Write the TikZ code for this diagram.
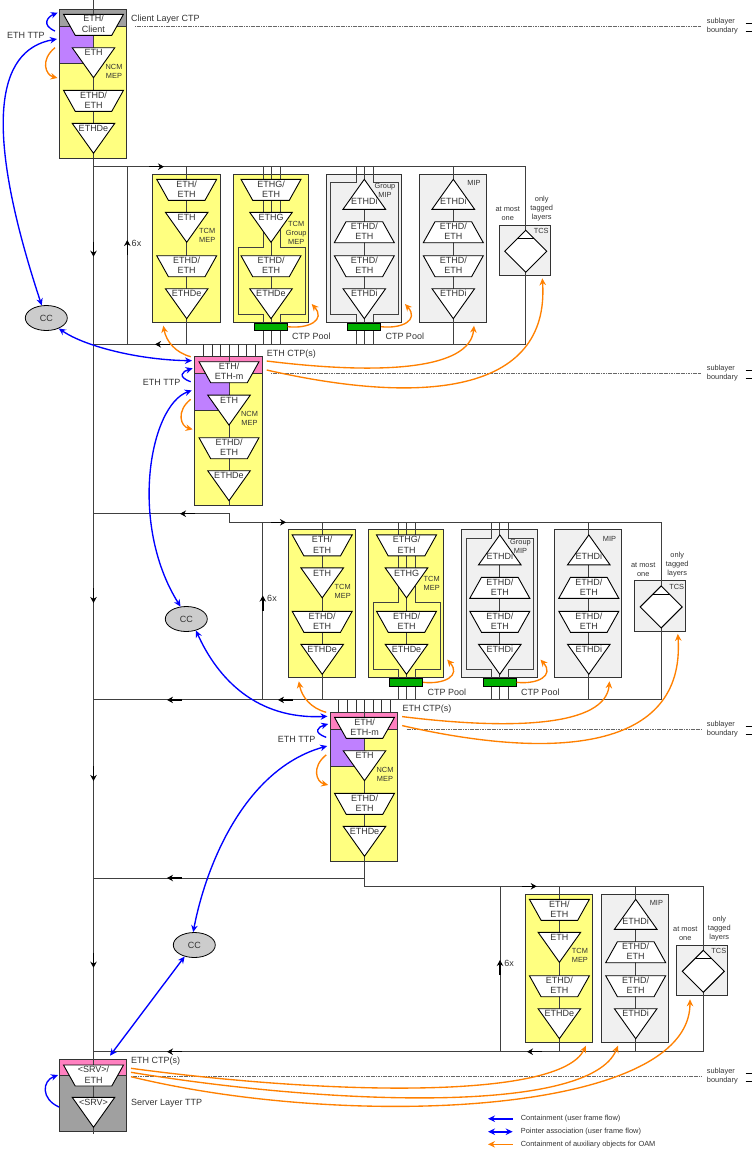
\documentclass[tikz,border=0pt]{standalone}
\usepackage{fontspec}
\setmainfont{Liberation Sans}
\usepackage{xcolor}
\usetikzlibrary{shapes.geometric, arrows.meta}

\definecolor{mepyellow}{HTML}{FFFF80}
\definecolor{ttppurple}{HTML}{BF80FF}
\definecolor{ctppink}{HTML}{FF80C0}
\definecolor{layergray}{HTML}{A0A0A0}
\definecolor{mipgray}{HTML}{F0F0F0}
\definecolor{poolgreen}{HTML}{00B000}
\definecolor{ccgray}{HTML}{CCCCCC}
\definecolor{oamorange}{HTML}{FF8000}

\tikzset{
    small/.style={font=\fontsize{7.4}{9}\selectfont},
    elem/.style={draw=black, fill=white, line width=0.9pt},
    flow/.style={draw=black!75, line width=1pt},
    outline/.style={draw=black!80, line width=1pt},
    flowarrow/.style={black, line width=1.4pt, -{Stealth[length=6pt,width=6.5pt]}},
    contain/.style={blue, line width=1.35pt},
    oam/.style={oamorange, line width=1.35pt},
    ctrl/.style={draw=black, fill=ccgray, ellipse, minimum width=42pt, minimum height=25pt, line width=0.8pt},
    pool/.style={draw=black, fill=poolgreen, minimum width=33pt, minimum height=7.3pt, line width=0.8pt},
    boundary/.style={draw=black!60, line width=0.5pt, dash pattern=on 1.2pt off 0.5pt},
    % elementary shapes
    trapdown/.pic={
        \draw[elem] (-30,0) -- (30,0) -- (18.3,21) -- (-18.3,21) -- cycle;
        \node at (0,9.7) {#1};
    },
    trapup/.pic={
        \draw[elem] (-18.3,0) -- (18.3,0) -- (30,21) -- (-30,21) -- cycle;
        \node at (0,9.7) {#1};
    },
    tridown/.pic={
        \draw[elem] (-21.3,0) -- (21.3,0) -- (0,30) -- cycle;
        \node at (0,5) {#1};
    },
    triup/.pic={
        \draw[elem] (0,0) -- (21.3,30) -- (-21.3,30) -- cycle;
        \node at (0,21.5) {#1};
    },
    % lower part of a stack: trapezium and triangle
    stackend/.pic={
        \pic at (0,81.4) {trapdown={ETHD/\\ETH}};
        \pic at (0,114.4) {tridown={#1}};
    },
    % TCM MEP box, the value is the length of its line below the top
    boxtcm/.pic={
        \draw[outline, fill=mepyellow] (-34.2,0) rectangle (33.3,148);
        \draw[flow] (0,-7.6) -- (0,#1);
        \pic at (0,5) {trapdown={ETH/\\ETH}};
        \pic at (0,38) {tridown={ETH}};
        \pic at (0,0) {stackend=ETHDe};
        \node[small, anchor=north] at (20.5,54) {TCM\\MEP};
    },
    % MIP box
    boxmip/.pic={
        \draw[outline, fill=mipgray] (-34.3,0) rectangle (33,148);
        \draw[flow] (0,-7.6) -- (0,#1);
        \pic at (0,5) {triup=ETHDi};
        \pic at (0,47.4) {trapup={ETHD/\\ETH}};
        \pic at (0,0) {stackend=ETHDi};
        \node[small] at (20.7,8.7) {MIP};
    },
    % TCS box
    boxtcs/.pic={
        \draw[outline, fill=mipgray] (-26.4,0) rectangle (24.3,50.4);
        \draw[flow] (0,-58.6) -- (0,#1);
        \draw[elem] (0,5) -- (21,26) -- (0,47) -- (-21,26) -- cycle;
        \draw[elem] (-8.4,13.4) -- (8.4,13.4);
        \node[small] at (15.5,6) {TCS};
        \node[small] at (-18,-11.5) {at most\\one};
        \node[small] at (16,-16.5) {only\\tagged\\layers};
    },
    % one row of connection functions, in the frame of the first row
    pics/rowfn/.style={code={
        \draw[flow] (127.3,166.7) rectangle (525.7,344.3);
        \pic at (186.7,174.3) {boxtcm=170};
        % TCM group box
        \draw[outline, fill=mepyellow] (233,174.3) rectangle (308.3,322.3);
        \draw[flow] (271,166.7) -- (271,344.3);
        \draw[flow] (263.3,166.7) -- (263.3,247.3) -- (238.3,247.3) -- (238.3,314.3) -- (263.3,314.3) -- (263.3,344.3);
        \draw[flow] (280,166.7) -- (280,247.3) -- (305,247.3) -- (305,314.3) -- (280,314.3) -- (280,344.3);
        \pic at (271,179.3) {trapdown={ETHG/\\ETH}};
        \pic at (271,212.3) {tridown=ETHG};
        \pic at (271,174.3) {stackend=ETHDe};
        \node[small, anchor=north] at (296.2,221) {#1};
        \node[pool] (-poolb) at (270.8,326.7) {};
        % group MIP box
        \draw[outline, fill=mipgray] (326,174.3) rectangle (401.7,322.3);
        \draw[flow] (364.3,166.7) -- (364.3,344.3);
        \draw[flow] (356,166.7) -- (356,182.7) -- (330.7,182.7) -- (330.7,314.3) -- (356,314.3) -- (356,344.3);
        \draw[flow] (373.3,166.7) -- (373.3,182.7) -- (398.3,182.7) -- (398.3,314.3) -- (373.3,314.3) -- (373.3,344.3);
        \pic at (364.3,179.3) {triup=ETHDi};
        \pic at (364.3,221.7) {trapup={ETHD/\\ETH}};
        \pic at (364.3,174.3) {stackend=ETHDi};
        \node[small, anchor=north] at (385,183.5) {Group\\MIP};
        \node[pool] (-poolc) at (364.2,326.7) {};
        \pic at (453.3,174.3) {boxmip=170};
        \pic at (525.7,225.3) {boxtcs=119};
        % arrow on the sides
        \draw[flowarrow] (127.3,255) -- (127.3,240);
        \node at (136.5,243) {6x};
        \node[anchor=west] at (292,336.7) {CTP Pool};
        \node[anchor=west] at (385.3,336.7) {CTP Pool};
        \coordinate (-tipa) at (163.3,325.7);
        \coordinate (-tipb) at (311.7,304);
        \coordinate (-tipc) at (405,304);
        \coordinate (-tipd) at (474,325.7);
        \coordinate (-tipe) at (542.3,278.3);
    }},
    % NCM block, origin on its centre line
    pics/ncmblock/.style 2 args={code={
        \draw[outline, fill=mepyellow] (-34.2,26) rectangle (33.2,158);
        \fill[ttppurple] (-34.2,26) rectangle (0,63.3);
        \draw[outline] (-34.2,63.3) -- (-34.2,26) -- (33.2,26);
        \draw[black!80, line width=0.9pt] (-34.2,63.3) -- (-10,63.3);
        \draw[outline, fill=#1] (-34.2,9.3) rectangle (33.2,26);
        \draw[flow] (0,9.3) -- (0,158);
        \pic at (0,14.3) {trapdown={#2}};
        \pic at (0,47.7) {tridown=ETH};
        \pic at (0,90.3) {trapdown={ETHD/\\ETH}};
        \pic at (0,123.3) {tridown=ETHDe};
        \node[small, anchor=north] at (20.5,64) {NCM\\MEP};
        \coordinate (-tip) at (-37,13.3);
        \coordinate (-ttpin) at (-38.3,34.3);
        \coordinate (-ttp) at (-36.3,20.9);
        \coordinate (-ptr) at (-37.3,43);
        \coordinate (-oamin) at (-38.3,51.9);
        \coordinate (-mep) at (-36.3,82);
        \coordinate (-ctpa) at (-38.3,9.3);
        \coordinate (-ctpb) at (37.7,13.6);
        \coordinate (-ctpc) at (37.7,22.6);
    }},
    ctplines/.pic={
        \foreach \dx in {-25.7,-16.7,-8.3,0,9,17.3,26}
            \draw[black!80, line width=0.7pt] (\dx,0) -- (\dx,12.4);
    },
    % boundary with its text
    sublayer/.pic={
        \draw[boundary] (#1,0) -- (701,0);
        \node[small, anchor=west, align=left] at (706.7,0) {sublayer\\boundary};
        \draw[black, line width=0.6pt] (745.7,-3.5) -- (752,-3.5);
        \draw[black, line width=0.6pt] (745.7,4.5) -- (752,4.5);
    }
}

% arrows of auxiliary objects from one block to one row
\newcommand{\oamarrows}[2]{
    \draw[oam,->] (#2-ctpa) .. controls +(-15,-4) and +(3,16) .. (#1-tipa);
    \draw[oam,->] (#1-poolb.east) .. controls +(21,2.3) and +(14.3,16) .. (#1-tipb);
    \draw[oam,->] (#1-poolc.east) .. controls +(21,2.3) and +(14.3,16) .. (#1-tipc);
    \draw[oam,->] (#2-ctpb) .. controls +(113.3,14) and +(-4,44.3) .. (#1-tipd);
    \draw[oam,->] (#2-ctpc) .. controls +(153.3,35) and +(7.7,116.7) .. (#1-tipe);
}

\begin{document}
\begin{tikzpicture}[
    x=1pt, y=-1pt,
    >={Stealth[length=7pt,width=6.5pt]},
    every node/.style={font=\fontsize{9}{10.5}\selectfont, text=black!80, inner sep=0pt, align=center}
]
\useasboundingbox (0,0) rectangle (752,1149);

% Sublayer boundaries
\pic at (0,26.5) {sublayer=135};
\pic at (0,373.3) {sublayer=271};
\pic at (0,729.3) {sublayer=406.7};
\pic at (0,1076.3) {sublayer=131};

% Main flow
\draw[flow] (93.5,0) -- (93.5,1131);
\draw[flow] (93.5,166.7) -- (127.3,166.7);
\draw[flow] (93.5,344.3) -- (127.3,344.3);
\draw[flow] (93.5,513.7) -- (229,513.7) -- (229,522.3) -- (262.8,522.3);
\draw[flow] (93.5,699.9) -- (262.8,699.9);
\draw[flow] (93.5,878) -- (364.5,878);
\draw[flow] (364.5,861) -- (364.5,886.3) -- (703.3,886.3) -- (703.3,1051.7) -- (93.5,1051.7);
\draw[flow] (500,886.3) -- (500,1051.7);

% Rows of connection functions
\pic (rowa) at (0,0) {rowfn={TCM\\Group\\MEP}};
\pic (rowb) at (135.5,355.6) {rowfn={TCM\\MEP}};

% Last row
\pic at (559.4,894.3) {boxtcm=157.4};
\pic at (635.7,894.3) {boxmip=157.4};
\pic at (703.3,945.3) {boxtcs=106.4};
\draw[flowarrow] (500,975) -- (500,960);
\node at (509,963) {6x};
\coordinate (tipf) at (586,1045.7);
\coordinate (tipg) at (618,1045.7);
\coordinate (tiph) at (690,999.3);

% Flow direction
\foreach \fy in {241.7, 588, 766, 952.7}
    \draw[flowarrow] (93.5,\fy) -- +(0,15);
\foreach \fx/\fy in {149/166.7, 271/522.3, 521.7/886.3}
    \draw[flowarrow] (\fx,\fy) -- +(15,0);
\foreach \fx/\fy in {170/344.3, 293/699.9, 182/699.9, 195/513.7, 182/878, 182/1051.7, 542/1051.7}
    \draw[flowarrow] (\fx,\fy) -- +(-15,0);

% NCM blocks
\pic (blka) at (93.5,0) {ncmblock={layergray}{ETH/\\Client}};
\draw[flow] (93.5,0) -- (93.5,14.3);
\pic at (229,344.3) {ctplines};
\pic (blkb) at (229,347.4) {ncmblock={ctppink}{ETH/\\ETH-m}};
\pic at (364.5,699.9) {ctplines};
\pic (blkc) at (364.5,703) {ncmblock={ctppink}{ETH/\\ETH-m}};

% Server layer block
\draw[outline, fill=layergray] (59.3,1075) rectangle (126.7,1131);
\draw[outline, fill=ctppink] (59.3,1059.3) rectangle (126.7,1075);
\draw[flow] (93.5,1051.7) -- (93.5,1134);
\pic at (93.5,1065) {trapdown={<SRV>/\\ETH}};
\pic at (93.5,1097.3) {tridown={<SRV>}};

% Labels
\node[anchor=west] (clientctp) at (131,18.7) {Client Layer CTP};
\node[anchor=west] (ttpa) at (7,35.7) {ETH TTP};
\node[anchor=west] (ctpb) at (266.7,354) {ETH CTP(s)};
\node[anchor=west] (ttpb) at (142.7,382.7) {ETH TTP};
\node[anchor=west] (ctpc) at (402.3,709.5) {ETH CTP(s)};
\node[anchor=west] (ttpc) at (277.7,739) {ETH TTP};
\node[anchor=west] (ctpd) at (131,1061) {ETH CTP(s)};
\node[anchor=west] (srvttp) at (131,1103) {Server Layer TTP};

% Connection controllers
\node[ctrl] (cca) at (46.3,318) {CC};
\node[ctrl] (ccb) at (186.3,619) {CC};
\node[ctrl] (ccc) at (194.3,945) {CC};

% Containment and pointer arrows
\coordinate (srvin) at (59,1107);
\coordinate (srvtop) at (58,1075);
\coordinate (srvptr) at (110,1055.7);
\coordinate (clientin) at (55,31);
\coordinate (clientttp) at (57.7,12.7);
\coordinate (clientptr) at (57,39);
\coordinate (clientoam) at (55,47.7);
\coordinate (clientmep) at (57.5,78);
\draw[contain,->] (clientin) .. controls +(-14,-6) and +(-10,4) .. (clientttp);
\draw[contain,<->] (clientptr) .. controls +(-62,11) and +(-58,-176) .. (cca.110);
\draw[contain,<->] (cca.-40) .. controls +(26.7,18.3) and +(-52,-0.7) .. (blkb-tip);
\draw[contain,->] (blkb-ttpin) .. controls +(-14,-5) and +(-10,3) .. (blkb-ttp);
\draw[contain,<->] (blkb-ptr) .. controls +(-42,15) and +(-52,-83) .. (ccb.115);
\draw[contain,<->] (ccb.-50) .. controls +(22,48.5) and +(-71,3.3) .. (blkc-tip);
\draw[contain,->] (blkc-ttpin) .. controls +(-14,-5) and +(-10,3) .. (blkc-ttp);
\draw[contain,<->] (blkc-ptr) .. controls +(-82,23) and +(13,-68) .. (ccc.95);
\draw[contain,<->] (ccc.-130) -- (srvptr);
\draw[contain,->] (srvin) .. controls +(-18,-8) and +(-16,6) .. (srvtop);

% Auxiliary objects
\draw[oam,->] (clientoam) .. controls +(-15,12) and +(-12,-3) .. (clientmep);
\draw[oam,->] (blkb-oamin) .. controls +(-15,12) and +(-12,-3) .. (blkb-mep);
\draw[oam,->] (blkc-oamin) .. controls +(-15,12) and +(-12,-3) .. (blkc-mep);
\oamarrows{rowa}{blkb}
\oamarrows{rowb}{blkc}
\coordinate (srvctpa) at (131,1068.3);
\coordinate (srvctpb) at (131,1072.3);
\coordinate (srvctpc) at (131,1076.7);
\draw[oam,->] (srvctpa) .. controls +(199,26.7) and +(-26,54.3) .. (tipf);
\draw[oam,->] (srvctpb) .. controls +(199,32.7) and +(-28,69.3) .. (tipg);
\draw[oam,->] (srvctpc) .. controls +(219,53.3) and +(0,115.7) .. (tiph);

% Legend
\node[small, anchor=west] (lega) at (520.7,1118.7) {Containment (user frame flow)};
\node[small, anchor=west] (legb) at (520.7,1131.7) {Pointer association (user frame flow)};
\node[small, anchor=west] (legc) at (520.7,1144.3) {Containment of auxiliary objects for OAM};
\coordinate (legaend) at (488,1118.7);
\coordinate (legbend) at (488,1131.7);
\coordinate (legcend) at (488,1144.3);
\draw[contain,line width=1.6pt,<-] (legaend) -- ++(24.7,0);
\draw[contain,line width=1.6pt,<->] (legbend) -- ++(24.7,0);
\draw[oam,line width=1.6pt,<-] (legcend) -- ++(24.7,0);

\end{tikzpicture}
\end{document}
